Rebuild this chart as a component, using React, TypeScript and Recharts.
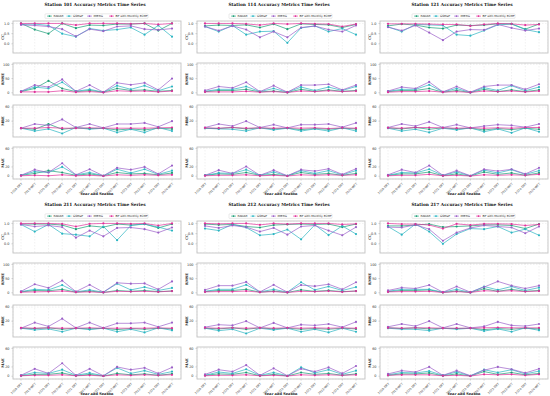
import { LineChart, Line, XAxis, YAxis, CartesianGrid } from 'recharts';

const seasons = [
  '2019-DRY', '2019-WET', '2020-DRY', '2020-WET', '2021-DRY', '2021-WET',
  '2022-DRY', '2022-WET', '2023-DRY', '2023-WET', '2024-DRY', '2024-WET',
];
const seriesNames = ['RADAR', 'GSMaP', 'IMERG', 'BP with Monthly ECMF'];
const seriesColors = ['#1b9e77', '#2bb5c2', '#9b5fc8', '#e0309a'];
const metricNames = ['CC', 'RMSE', 'MBE', 'MAE'];
const stationNames = ['101', '114', '121', '211', '212', '217'];

// each metric array: [RADAR, GSMaP, IMERG, BP]
const cc101 = [
  [1.0, 0.7, 0.5, 1.0, 0.77, 0.92, 0.9, 0.97, 0.97, 1.0, 0.65, 1.0],
  [0.95, 0.97, 0.9, 0.5, 0.35, 0.75, 0.65, 0.7, 0.8, 0.45, 0.9, 0.35],
  [0.93, 0.9, 0.85, 0.72, 0.37, 0.72, 0.62, 0.85, 0.88, 0.72, 0.68, 0.75],
  [1.0, 1.0, 1.0, 1.0, 0.92, 1.0, 1.0, 1.0, 0.98, 1.0, 0.95, 1.0],
];
const rmse101 = [
  [4, 15, 42, 15, 4, 8, 2, 15, 8, 10, 5, 8],
  [5, 20, 15, 37, 5, 12, 2, 25, 12, 25, 7, 22],
  [5, 27, 20, 47, 5, 27, 2, 35, 28, 35, 10, 50],
  [3, 3, 3, 7, 2, 4, 1, 7, 5, 6, 3, 6],
];
const mbe101 = [
  [0, -3, 12, -3, 1, -1, 0, -5, -2, -5, 0, -2],
  [0, -8, -2, -15, 2, -3, 0, -12, -3, -12, 2, -8],
  [0, 12, 8, 25, 2, 12, 1, 12, 12, 15, 4, 20],
  [0, 0, 2, 0, 0, 1, 0, 0, 0, 0, 1, 2],
];
const mae101 = [
  [2, 6, 12, 8, 2, 5, 1, 8, 5, 6, 3, 7],
  [2, 10, 8, 20, 3, 8, 1, 15, 7, 15, 4, 12],
  [2, 14, 8, 28, 3, 15, 1, 18, 14, 20, 5, 23],
  [1, 2, 1, 3, 1, 2, 0.5, 3, 2, 3, 2, 3],
];

const cc114 = [
  [0.88, 0.92, 0.9, 0.93, 0.8, 0.97, 0.72, 0.98, 0.95, 0.93, 0.8, 0.95],
  [0.85, 0.6, 0.9, 0.45, 0.6, 0.62, 0.05, 0.78, 0.88, 0.6, 0.75, 0.45],
  [0.85, 0.65, 0.88, 0.7, 0.32, 0.6, 0.32, 0.8, 0.87, 0.7, 0.6, 0.9],
  [1.0, 1.0, 1.0, 0.98, 0.92, 1.0, 0.97, 1.0, 0.98, 0.97, 0.85, 0.97],
];
const rmse114 = [
  [4, 8, 8, 12, 3, 6, 1, 12, 5, 10, 5, 8],
  [5, 12, 12, 22, 4, 15, 2, 20, 8, 20, 8, 22],
  [8, 22, 17, 37, 4, 25, 2, 27, 27, 30, 10, 27],
  [3, 3, 3, 5, 2, 4, 1, 6, 4, 7, 4, 6],
];
const mbe114 = [
  [0, -1, 2, -2, 1, -2, 0, -4, -1, -3, 0, -2],
  [0, -2, -3, -8, 1, -5, 0, -8, -2, -8, 1, -8],
  [2, 12, 6, 20, 2, 10, 1, 10, 10, 12, 3, 15],
  [1, 0, 2, 0, 1, 0, 1, 0, 1, -1, 1, 0],
];
const mae114 = [
  [2, 5, 4, 8, 2, 4, 1, 8, 4, 6, 2, 6],
  [2, 7, 6, 14, 2, 9, 1, 12, 6, 12, 3, 12],
  [2, 13, 6, 21, 2, 13, 1, 14, 11, 16, 4, 16],
  [1, 2, 2, 3, 1, 2, 0.5, 3, 2, 3, 2, 3],
];

const cc121 = [
  [0.88, 0.97, 0.92, 0.8, 0.75, 0.92, 0.9, 0.92, 0.98, 0.98, 0.72, 0.97],
  [0.83, 0.6, 0.95, 0.93, 0.9, 0.45, 0.4, 0.65, 0.93, 0.97, 0.7, 0.57],
  [0.82, 0.65, 0.9, 0.55, 0.18, 0.6, 0.7, 0.68, 0.95, 0.78, 0.65, 0.75],
  [0.98, 0.98, 0.98, 0.97, 0.95, 0.95, 0.88, 0.95, 1.0, 0.98, 0.92, 0.95],
];
const rmse121 = [
  [4, 8, 8, 15, 2, 8, 1, 12, 4, 10, 4, 10],
  [5, 12, 12, 28, 3, 15, 1, 18, 8, 25, 7, 20],
  [6, 20, 15, 38, 3, 22, 2, 22, 27, 27, 12, 30],
  [2, 4, 4, 6, 2, 4, 1, 6, 4, 6, 3, 6],
];
const mbe121 = [
  [1, -2, 2, -3, 1, -2, 0, -5, -1, -4, 0, -3],
  [0, -8, -3, -12, 0, -5, 1, -10, -2, -13, 1, -10],
  [2, 12, 6, 18, 2, 10, 1, 6, 10, 8, 3, 12],
  [1, 0, 2, 2, 1, 0, 1, 0, 1, 0, 2, 2],
];
const mae121 = [
  [2, 5, 5, 9, 1, 5, 0.5, 9, 4, 7, 2, 7],
  [2, 8, 7, 15, 2, 9, 1, 13, 7, 14, 4, 12],
  [3, 14, 8, 23, 2, 12, 1, 15, 11, 15, 5, 18],
  [1, 2, 2, 4, 1, 2, 0.5, 3, 2, 3, 2, 4],
];

const cc211 = [
  [0.97, 0.97, 0.97, 0.92, 0.72, 0.88, 0.82, 0.97, 0.92, 0.97, 0.78, 0.97],
  [0.95, 0.6, 0.95, 0.5, 0.45, 0.37, 0.85, 0.18, 0.9, 0.97, 0.82, 0.65],
  [0.95, 0.85, 0.9, 0.82, 0.3, 0.65, 0.37, 0.78, 0.8, 0.72, 0.55, 0.8],
  [1.0, 1.0, 1.0, 0.98, 0.85, 0.98, 1.0, 1.0, 0.98, 1.0, 0.9, 1.0],
];
const rmse211 = [
  [3, 8, 7, 12, 2, 6, 1, 8, 5, 8, 4, 6],
  [4, 12, 10, 27, 3, 10, 2, 32, 10, 20, 8, 17],
  [5, 30, 17, 43, 4, 28, 2, 35, 32, 33, 12, 40],
  [2, 3, 4, 6, 2, 3, 1, 5, 4, 5, 3, 6],
];
const mbe211 = [
  [0, -1, 1, -3, 0, -2, 0, -4, -1, -3, 0, -2],
  [0, -5, -2, -10, 0, -4, 0, -10, -3, -12, 1, -6],
  [0, 16, 5, 27, 1, 16, 1, 14, 14, 16, 4, 16],
  [1, 0, 1, 0, 0, 1, 0, 0, 0, 0, 1, 0],
];
const mae211 = [
  [1, 4, 4, 7, 1, 4, 0.5, 6, 3, 5, 2, 5],
  [2, 8, 6, 14, 2, 7, 1, 18, 6, 12, 4, 10],
  [2, 16, 6, 28, 2, 16, 1, 20, 14, 18, 6, 19],
  [1, 2, 2, 3, 1, 2, 0.5, 3, 2, 3, 2, 3],
];

const cc212 = [
  [0.97, 0.93, 0.95, 0.85, 0.8, 0.92, 0.95, 0.97, 0.95, 0.97, 0.82, 0.97],
  [0.75, 0.65, 0.95, 0.8, 0.42, 0.48, 0.7, 0.22, 0.93, 0.43, 0.88, 0.48],
  [0.88, 0.78, 0.9, 0.82, 0.6, 0.78, 0.45, 0.85, 0.9, 0.65, 0.42, 0.82],
  [1.0, 0.98, 1.0, 1.0, 0.93, 1.0, 0.97, 1.0, 1.0, 1.0, 0.95, 0.98],
];
const rmse212 = [
  [4, 8, 8, 12, 2, 6, 1, 10, 5, 8, 4, 6],
  [5, 12, 12, 28, 3, 12, 2, 37, 10, 22, 8, 20],
  [10, 25, 25, 38, 3, 28, 2, 27, 23, 30, 12, 37],
  [3, 4, 4, 6, 2, 4, 1, 5, 4, 6, 3, 6],
];
const mbe212 = [
  [0, -2, 1, -3, 1, -2, 0, -3, -1, -3, 0, -2],
  [0, -7, -3, -15, 0, -5, 0, -10, -3, -12, 0, -10],
  [3, 10, 8, 20, 1, 15, 1, 10, 8, 12, 3, 18],
  [1, 0, 1, 0, 1, 0, 1, 0, 1, 0, 1, 0],
];
const mae212 = [
  [2, 5, 4, 8, 1, 4, 0.5, 8, 4, 6, 2, 5],
  [2, 9, 6, 15, 2, 8, 1, 19, 7, 14, 4, 12],
  [4, 14, 10, 24, 2, 17, 1, 16, 10, 19, 6, 22],
  [1, 2, 2, 3, 1, 2, 0.5, 3, 2, 3, 2, 3],
];

const cc217 = [
  [0.88, 0.88, 0.92, 0.97, 0.82, 0.85, 0.88, 0.93, 0.93, 0.9, 0.75, 0.97],
  [0.85, 0.45, 0.97, 0.6, 0.0, 0.48, 0.75, 0.72, 0.85, 0.55, 0.72, 0.42],
  [0.82, 0.8, 0.93, 0.72, 0.15, 0.55, 0.78, 0.9, 0.85, 0.8, 0.52, 0.85],
  [1.0, 0.97, 0.97, 0.92, 0.75, 0.98, 0.92, 0.98, 0.98, 0.97, 0.9, 0.95],
];
const rmse217 = [
  [4, 8, 8, 10, 1, 6, 1, 14, 5, 12, 5, 8],
  [5, 12, 12, 12, 2, 12, 1, 22, 10, 22, 8, 18],
  [8, 18, 15, 27, 2, 22, 2, 20, 40, 25, 15, 25],
  [3, 4, 4, 5, 1, 4, 1, 7, 5, 7, 4, 6],
];
const mbe217 = [
  [1, -1, 1, -2, 0, -1, 0, -4, -1, -3, 0, -2],
  [0, -3, -3, -7, 0, -3, 0, -8, -2, -10, 1, -6],
  [4, 12, 6, 20, 1, 12, 1, 5, 18, 8, 6, 12],
  [1, 0, 1, 1, 0, 0, 0, 1, 2, 1, 1, 1],
];
const mae217 = [
  [2, 5, 5, 7, 1, 5, 0.5, 10, 4, 8, 3, 6],
  [3, 8, 7, 11, 2, 9, 1, 14, 8, 14, 5, 11],
  [5, 12, 9, 20, 2, 12, 1, 13, 20, 15, 7, 16],
  [2, 3, 3, 3, 1, 2, 0.5, 4, 3, 4, 2, 4],
];

const stationMetrics = [
  [cc101, rmse101, mbe101, mae101],
  [cc114, rmse114, mbe114, mae114],
  [cc121, rmse121, mbe121, mae121],
  [cc211, rmse211, mbe211, mae211],
  [cc212, rmse212, mbe212, mae212],
  [cc217, rmse217, mbe217, mae217],
];

const domains: [number, number][] = [[-0.45, 1.12], [-8, 105], [-25, 66], [-6, 63]];
const ticks = [[0, 0.5, 1.0], [0, 25, 50, 75, 100], [-20, 0, 20, 40, 60], [0, 20, 40, 60]];

const colX = [0, 184, 367];
const rowY = [0, 200];
const subTop = [21, 63, 105, 147];
const YW = 13;
const BOXW = 168;
const BOXH = 32;
const XH = 19;

function buildRows(series: number[][]) {
  return seasons.map((s, i) => {
    const row: Record<string, string | number> = { season: s };
    seriesNames.forEach((n, k) => { row[n] = series[k][i]; });
    return row;
  });
}

function Subplot({ left, top, m, series }: { left: number; top: number; m: number; series: number[][] }) {
  const showX = m === 3;
  const data = buildRows(series);
  return (
    <div style={{ position: 'absolute', left, top }}>
      <LineChart width={YW + BOXW} height={BOXH + (showX ? XH : 0)} data={data}
        style={{ overflow: 'visible' }}
        margin={{ top: 0, right: 0, bottom: 0, left: 0 }}>
        <CartesianGrid stroke="#e2e2e2" strokeDasharray="1.5 1.5" strokeWidth={0.5} />
        <XAxis dataKey="season" hide={!showX} interval={0} height={XH} padding={{ left: 8, right: 9 }}
          tickSize={1.5} axisLine={false} tickLine={{ stroke: '#888', strokeWidth: 0.4 }}
          tick={{ fontSize: 3.0, fill: '#333', angle: -45, textAnchor: 'end', fontFamily: 'DejaVu Sans' }} />
        <YAxis width={YW} domain={domains[m]} ticks={ticks[m]} type="number" allowDataOverflow
          tickSize={1.5} axisLine={false} tickLine={{ stroke: '#888', strokeWidth: 0.4 }}
          tickFormatter={(v: number) => (m === 0 ? v.toFixed(1) : String(v))}
          tick={{ fontSize: 3.4, fill: '#333', fontFamily: 'DejaVu Sans' }} />
        {seriesNames.map((n, k) => (
          <Line key={n} dataKey={n} stroke={seriesColors[k]} strokeWidth={0.7}
            dot={{ r: 1.1, fill: seriesColors[k], stroke: seriesColors[k], strokeWidth: 0 }}
            isAnimationActive={false} />
        ))}
      </LineChart>
    </div>
  );
}

function Overlay() {
  const items: JSX.Element[] = [];
  stationNames.forEach((st, si) => {
    const cx = colX[si % 3];
    const ry = rowY[Math.floor(si / 3)];
    const bl = cx + YW;
    items.push(
      <text key={`t${si}`} x={bl + BOXW / 2 - 2} y={ry + 6} textAnchor="middle" fontSize={4.3}
        fontWeight="bold" fontFamily="DejaVu Serif" fill="#111">
        {`Station ${st} Accuracy Metrics Time Series`}
      </text>
    );
    // legend
    const lx = bl + 32;
    const ly = ry + 13.8;
    const offs = [0, 19.5, 40, 62];
    items.push(
      <rect key={`lb${si}`} x={lx} y={ly} width={103} height={4.6} fill="#fff" stroke="#ccc" strokeWidth={0.4} rx={0.6} />
    );
    seriesNames.forEach((n, k) => {
      const ix = lx + 2 + offs[k];
      items.push(
        <g key={`l${si}-${k}`}>
          <line x1={ix} x2={ix + 5} y1={ly + 2.3} y2={ly + 2.3} stroke={seriesColors[k]} strokeWidth={0.6} />
          <circle cx={ix + 2.5} cy={ly + 2.3} r={0.9} fill={seriesColors[k]} />
          <text x={ix + 6.5} y={ly + 3.3} fontSize={2.9} fontFamily="DejaVu Sans" fill="#222">{n}</text>
        </g>
      );
    });
    metricNames.forEach((mn, m) => {
      const top = ry + subTop[m];
      items.push(
        <rect key={`f${si}-${m}`} x={bl} y={top} width={BOXW} height={BOXH} fill="none" stroke="#c4c4c4" strokeWidth={0.9} />
      );
      items.push(
        <text key={`y${si}-${m}`} x={0} y={0} textAnchor="middle" fontSize={3.5} fontWeight="bold"
          fontFamily="DejaVu Serif" fill="#111"
          transform={`translate(${cx + 4},${top + BOXH / 2}) rotate(-90)`}>
          {mn}
        </text>
      );
    });
    items.push(
      <text key={`x${si}`} x={bl + BOXW / 2} y={ry + 195} textAnchor="middle" fontSize={3.6}
        fontWeight="bold" fontFamily="DejaVu Serif" fill="#111">
        Year and Season
      </text>
    );
  });
  return (
    <svg width={550} height={396} style={{ position: 'absolute', left: 0, top: 0, pointerEvents: 'none' }}>
      {items}
    </svg>
  );
}

export default function App() {
  return (
    <div style={{ position: 'absolute', left: 0, top: 0, width: 550, height: 396, background: '#fff', overflow: 'hidden' }}>
      {stationMetrics.map((metrics, si) =>
        metrics.map((series, m) => (
          <Subplot key={`${si}-${m}`} left={colX[si % 3]} top={rowY[Math.floor(si / 3)] + subTop[m]} m={m} series={series} />
        ))
      )}
      <Overlay />
    </div>
  );
}
